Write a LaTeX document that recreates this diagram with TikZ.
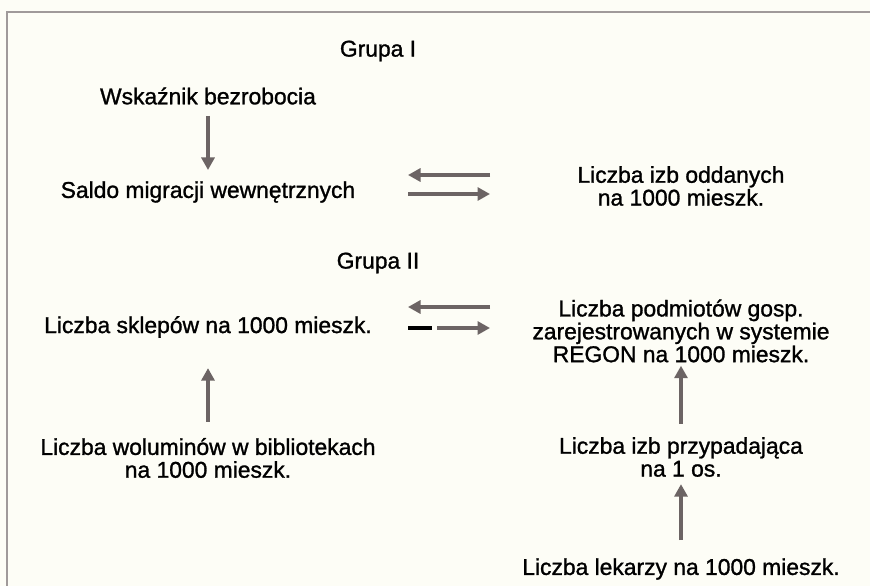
\documentclass[tikz,border=0pt]{standalone}
\usepackage{fontspec}
\setmainfont{Liberation Sans}
\newfontfamily\scanfont{Liberation Sans}[FakeBold=1.2]
\usetikzlibrary{arrows.meta}
\definecolor{paper}{RGB}{253,253,246}
\definecolor{framegray}{RGB}{160,154,154}
\definecolor{arrgray}{RGB}{108,100,100}

\begin{document}
\begin{tikzpicture}[
	txt/.style={inner sep=0pt, align=center, font=\scanfont\fontsize{13}{13}\selectfont},
	arr/.style={draw=arrgray, line width=2.3pt, -{Triangle[length=0.25cm,width=0.26cm]}}
	]
	\fill[paper] (0,0) rectangle (17.4,-11.72);
	\useasboundingbox (0,0) rectangle (17.4,-11.72);
	\draw[framegray, line width=1.7pt] (0.14,-11.72) -- (0.14,-0.24) -- (17.4,-0.24);

	\node[txt] (grupaI) at (7.56,-1.02) {Grupa I};
	\node[txt] (wsk) at (4.16,-1.92) {Wskaźnik bezrobocia};
	\node[txt] (saldo) at (4.16,-3.84) {Saldo migracji wewnętrznych};
	\node[txt] (izbodd) at (13.62,-3.72) {Liczba izb oddanych\\na 1000 mieszk.};

	\node[txt] (grupaII) at (7.56,-5.26) {Grupa II};
	\node[txt] (sklepy) at (4.16,-6.54) {Liczba sklepów na 1000 mieszk.};
	\node[txt] (podmioty) at (13.62,-6.62) {Liczba podmiotów gosp.\\zarejestrowanych w systemie\\REGON na 1000 mieszk.};
	\node[txt] (woluminy) at (4.16,-9.16) {Liczba woluminów w bibliotekach\\na 1000 mieszk.};
	\node[txt] (izbyos) at (13.62,-9.14) {Liczba izb przypadająca\\na 1 os.};
	\node[txt] (lekarze) at (13.62,-11.38) {Liczba lekarzy na 1000 mieszk.};

	\coordinate (gIl) at (8.16,-3.5);
	\coordinate (gIr) at (9.8,-3.5);
	\coordinate (gIl2) at (8.16,-3.88);
	\coordinate (gIr2) at (9.8,-3.88);
	\coordinate (gIIl) at (8.16,-6.14);
	\coordinate (gIIr) at (9.8,-6.14);
	\coordinate (gIIl2) at (8.74,-6.56);
	\coordinate (gIIr2) at (9.8,-6.56);

	\draw[arr, shorten <=0.22cm, shorten >=0.22cm] (wsk.south) -- (saldo.north);
	\draw[arr] (gIr) -- (gIl);
	\draw[arr] (gIl2) -- (gIr2);
	\draw[arr] (gIIr) -- (gIIl);
	\draw[arr] (gIIl2) -- (gIIr2);
	\draw[line width=2.4pt] (8.16,-6.56) -- (8.64,-6.56);
	\draw[arr, shorten <=0.32cm, shorten >=0.6cm] (woluminy.north) -- (sklepy.south);
	\draw[arr, shorten <=0.26cm, shorten >=0.06cm] (izbyos.north) -- (podmioty.south);
	\draw[arr, shorten <=0.36cm, shorten >=0.14cm] (lekarze.north) -- (izbyos.south);
\end{tikzpicture}
\end{document}
